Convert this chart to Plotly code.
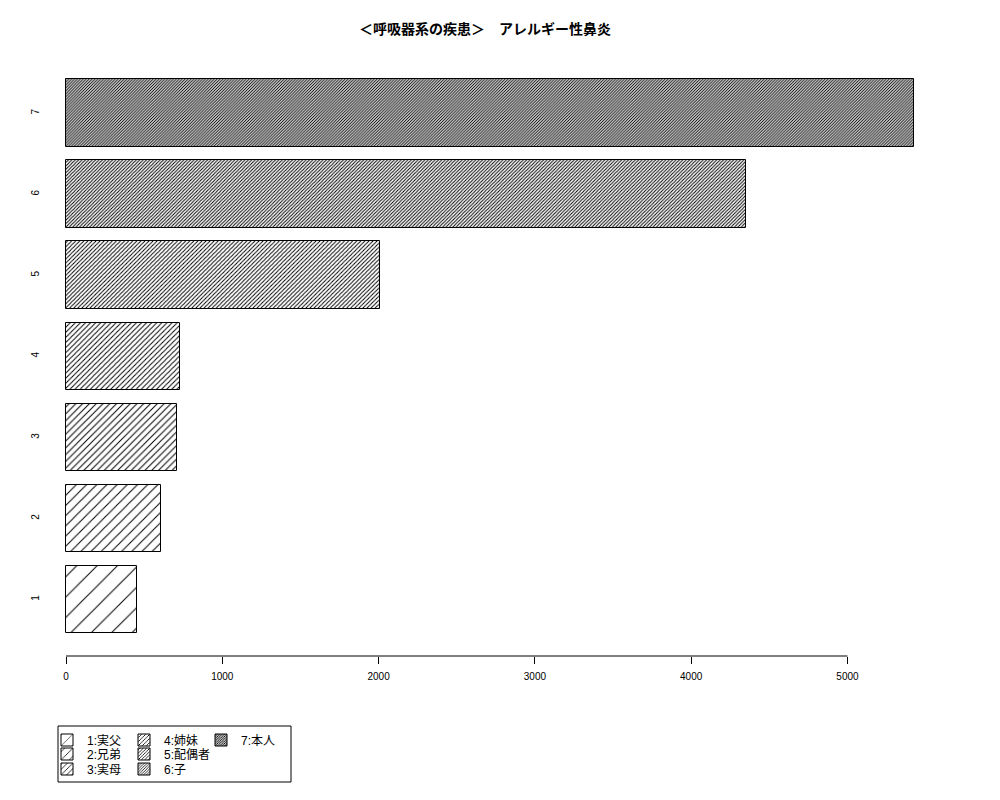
import plotly.graph_objects as go

# ---- data ----
categories = [1, 2, 3, 4, 5, 6, 7]
values = [456, 606, 710, 727, 2009, 4350, 5423]
legend_labels = ["1:実父", "2:兄弟", "3:実母", "4:姉妹", "5:配偶者", "6:子", "7:本人"]
x_tick_values = [0, 1000, 2000, 3000, 4000, 5000]
y_tick_labels = ["1", "2", "3", "4", "5", "6", "7"]
title_text = "＜呼吸器系の疾患＞　アレルギー性鼻炎"

# ---- style ----
hatch_density = [5, 10, 15, 20, 25, 30, 35]   # lines per inch (R style)
FONT = "Liberation Sans, Noto Sans CJK JP, sans-serif"
W, H = 1000, 800
OFF = 8  # page body margin
# desired page-pixel positions of plot area
PL, PR, PT, PB = 56, 940, 57, 656
L, T = PL - OFF, PT - OFF
R = W - (PR - OFF)
B = H - (PB - OFF)
pw, ph = W - L - R, H - T - B


def pxx(p):
    return (p - PL) / pw


def pxy(p):
    return (PB - p) / ph


fig = go.Figure()
legend_cols_px = [87, 164, 241]
legend_rows_px = [740, 754, 769]
for i, (cat, val, lab, dens) in enumerate(zip(categories, values, legend_labels, hatch_density)):
    size = 72.0 / dens
    sol = min(0.5, 1.0 / size)
    lname = "legend" if i == 0 else f"legend{i + 1}"
    fig.add_trace(go.Bar(
        x=[val], y=[cat], orientation="h", width=0.833,
        name=lab, legend=lname,
        marker=dict(color="white", line=dict(color="black", width=1),
                    pattern=dict(shape="/", size=size, solidity=sol,
                                 fgcolor="black", bgcolor="white", fillmode="replace")),
        showlegend=True,
    ))

layout_legends = {}
for i in range(7):
    col, row = i // 3, i % 3
    lname = "legend" if i == 0 else f"legend{i + 1}"
    layout_legends[lname] = dict(
        x=pxx(legend_cols_px[col] - 40), y=pxy(legend_rows_px[row]),
        xanchor="left", yanchor="middle",
        bgcolor="rgba(0,0,0,0)", borderwidth=0,
        font=dict(family=FONT, size=12, color="black"),
        itemclick=False, itemdoubleclick=False,
    )

fig.update_layout(
    width=W, height=H,
    margin=dict(l=L, r=R, t=T, b=B, autoexpand=False),
    paper_bgcolor="white", plot_bgcolor="white",
    font=dict(family=FONT, size=10, color="black"),
    title=dict(text=title_text, x=(485 - OFF) / W, xanchor="center",
               y=1 - (29 - OFF) / H, yanchor="middle",
               font=dict(family="Noto Sans CJK JP, sans-serif", size=14, color="black", weight="bold")),
    bargap=0,
    **layout_legends,
)

fig.update_xaxes(range=[-64, 5592], tickvals=x_tick_values,
                 ticktext=[str(v) for v in x_tick_values],
                 ticks="outside", ticklen=7, tickcolor="black", tickwidth=1,
                 showgrid=False, zeroline=False, showline=False, automargin=False,
                 ticklabelstandoff=4,
                 tickfont=dict(family=FONT, size=10, color="black"))
fig.update_yaxes(range=[0.303, 7.692], tickvals=categories, ticktext=y_tick_labels,
                 tickangle=-90, ticks="", showgrid=False, zeroline=False, showline=False,
                 automargin=False, ticklabelstandoff=14,
                 tickfont=dict(family=FONT, size=10, color="black"))

# axis line spanning the tick range (R style)
fig.add_shape(type="line", xref="x", yref="paper",
              x0=min(x_tick_values), x1=max(x_tick_values), y0=0, y1=0,
              line=dict(color="black", width=1))
# legend box
fig.add_shape(type="rect", xref="paper", yref="paper",
              x0=pxx(58), x1=pxx(291), y0=pxy(726), y1=pxy(782),
              line=dict(color="black", width=1), fillcolor="rgba(0,0,0,0)")

fig.write_html("out.html")
